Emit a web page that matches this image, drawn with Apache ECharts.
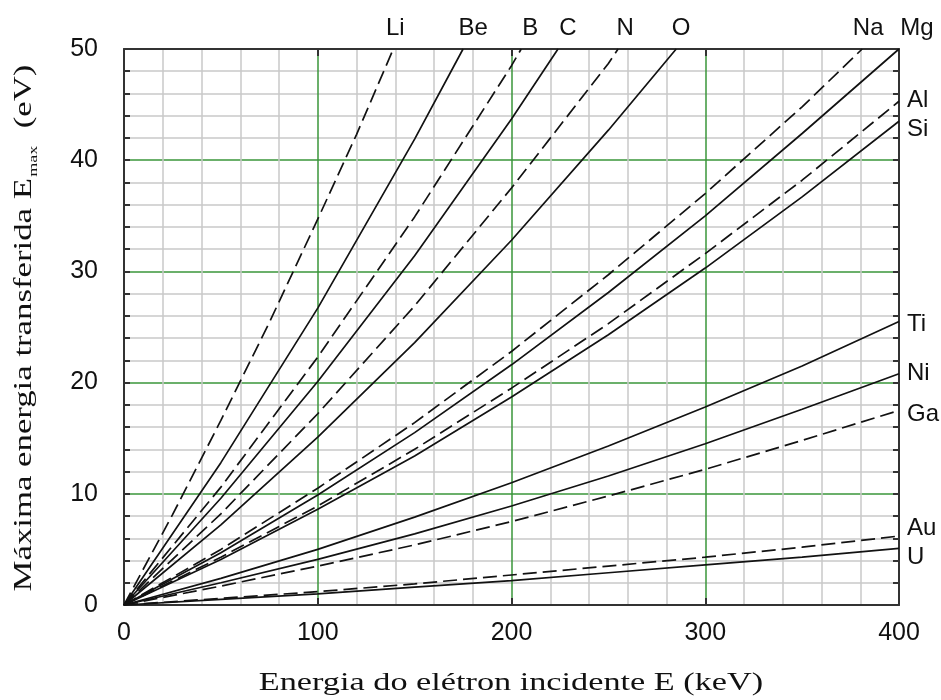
<!DOCTYPE html>
<html>
<head>
<meta charset="utf-8">
<title>Máxima energia transferida</title>
<script src="https://cdn.jsdelivr.net/npm/echarts@6/dist/echarts.min.js"></script>
<style>
  html, body { margin: 0; padding: 0; background: #ffffff; }
  #chart { width: 941px; height: 700px; }
</style>
</head>
<body>
<div id="chart"></div>
<script>
// Maximum energy transferred to a nucleus (eV) vs. incident electron energy (keV).
// Each element: list of [E (keV), Emax (eV)] points.
const li = [[0, 0], [25, 8.1], [50, 16.6], [75, 25.4], [100, 34.7], [120, 42.3], [139, 50]];
const be = [[0, 0], [50, 12.8], [100, 26.7], [150, 41.9], [175, 50]];
const b  = [[0, 0], [50, 10.6], [100, 22.3], [150, 34.9], [200, 48.5], [205, 50]];
const c  = [[0, 0], [50, 9.6], [100, 20.1], [150, 31.4], [200, 43.7], [224, 50]];
const n  = [[0, 0], [50, 8.2], [100, 17.2], [150, 26.9], [200, 37.5], [250, 48.7], [255, 50]];
const o  = [[0, 0], [50, 7.2], [100, 15.1], [150, 23.6], [200, 32.8], [250, 42.7], [285, 50]];
const na = [[0, 0], [50, 5.0], [100, 10.5], [150, 16.4], [200, 22.8], [250, 29.7], [300, 37.0], [350, 44.8], [381, 50]];
const mg = [[0, 0], [50, 4.7], [100, 9.9], [150, 15.5], [200, 21.6], [250, 28.1], [300, 35.0], [350, 42.4], [400, 50]];
const al = [[0, 0], [50, 4.3], [100, 8.9], [150, 14.0], [200, 19.5], [250, 25.3], [300, 31.6], [350, 38.2], [400, 45.3]];
const si = [[0, 0], [50, 4.1], [100, 8.6], [150, 13.4], [200, 18.7], [250, 24.3], [300, 30.3], [350, 36.7], [400, 43.5]];
const ti = [[0, 0], [50, 2.4], [100, 5.0], [150, 7.9], [200, 11.0], [250, 14.3], [300, 17.8], [350, 21.5], [400, 25.5]];
const ni = [[0, 0], [50, 2.0], [100, 4.1], [150, 6.4], [200, 8.9], [250, 11.6], [300, 14.5], [350, 17.6], [400, 20.8]];
const ga = [[0, 0], [50, 1.7], [100, 3.5], [150, 5.4], [200, 7.5], [250, 9.8], [300, 12.2], [350, 14.8], [400, 17.5]];
const au = [[0, 0], [50, 0.6], [100, 1.2], [150, 1.9], [200, 2.7], [250, 3.5], [300, 4.3], [350, 5.2], [400, 6.2]];
const u  = [[0, 0], [50, 0.5], [100, 1.0], [150, 1.6], [200, 2.2], [250, 2.9], [300, 3.6], [350, 4.3], [400, 5.1]];

const xTicks = [0, 100, 200, 300, 400];
const yTicks = [0, 10, 20, 30, 40, 50];

// name, points, dashed?, label side, label nudge
const curves = [
  ['Li', li, true,  'top',   [2, 0]],
  ['Be', be, false, 'top',   [10, 0]],
  ['B',  b,  true,  'top',   [9, 0]],
  ['C',  c,  false, 'top',   [10, 0]],
  ['N',  n,  true,  'top',   [7, 0]],
  ['O',  o,  false, 'top',   [5, 0]],
  ['Na', na, true,  'top',   [6, 0]],
  ['Mg', mg, false, 'top',   [18, 0]],
  ['Al', al, true,  'right', [0, -1]],
  ['Si', si, false, 'right', [0, 8]],
  ['Ti', ti, false, 'right', [0, 3]],
  ['Ni', ni, false, 'right', [0, 0]],
  ['Ga', ga, true,  'right', [0, 4]],
  ['Au', au, true,  'right', [0, -8]],
  ['U',  u,  false, 'right', [0, 9]]
];

const INK = '#111111';
const SANS = '"Liberation Sans", Arial, sans-serif';
const SERIF = '"Liberation Serif", "Times New Roman", serif';
const GREEN = '#3a963a';
const GRAY = '#c9c9c9';

const series = curves.map(([name, pts, dashed, side, nudge]) => {
  const last = pts[pts.length - 1];
  return {
    name: name,
    type: 'line',
    data: pts,
    showSymbol: false,
    smooth: false,
    clip: true,
    z: 3,
    lineStyle: { color: '#121212', width: 1.7, type: dashed ? [14, 6] : 'solid' },
    markPoint: {
      symbol: 'circle',
      symbolSize: 0,
      silent: true,
      data: [{ coord: last }],
      label: {
        show: true,
        formatter: name,
        position: side,
        distance: side === 'top' ? 9 : 8,
        offset: nudge,
        fontFamily: SANS,
        fontSize: 24,
        color: INK
      }
    }
  };
});

const boxLine = { show: true, onZero: false, lineStyle: { color: '#333', width: 2 } };

const option = {
  animation: false,
  backgroundColor: '#ffffff',
  grid: { left: 124, right: 42, top: 49, bottom: 95, containLabel: false },
  xAxis: [
    {
      type: 'value', position: 'bottom', min: xTicks[0], max: xTicks[xTicks.length - 1], interval: 100,
      axisLine: boxLine,
      axisTick: { show: true, inside: true, length: 7, lineStyle: { color: '#333', width: 2 } },
      axisLabel: { fontFamily: SANS, fontSize: 25, color: INK, margin: 16 },
      splitLine: { show: true, showMinLine: false, showMaxLine: false, lineStyle: { color: GREEN, width: 1.5 } },
      minorTick: { show: false, splitNumber: 5 },
      minorSplitLine: { show: true, lineStyle: { color: GRAY, width: 1.5 } }
    },
    {
      type: 'value', position: 'top', min: xTicks[0], max: xTicks[xTicks.length - 1], interval: 100,
      axisLine: boxLine,
      axisTick: { show: true, inside: true, length: 7, lineStyle: { color: '#333', width: 2 } },
      axisLabel: { show: false },
      splitLine: { show: false }
    }
  ],
  yAxis: [
    {
      type: 'value', position: 'left', min: yTicks[0], max: yTicks[yTicks.length - 1], interval: 10,
      axisLine: boxLine,
      axisTick: { show: true, inside: true, length: 6, lineStyle: { color: '#333', width: 2 } },
      minorTick: { show: true, splitNumber: 5, length: 6, lineStyle: { color: '#333', width: 2 } },
      axisLabel: { fontFamily: SANS, fontSize: 25, color: INK, margin: 26 },
      splitLine: { show: true, showMinLine: false, showMaxLine: false, lineStyle: { color: GREEN, width: 1.5 } },
      minorSplitLine: { show: true, lineStyle: { color: GRAY, width: 1.5 } }
    },
    {
      type: 'value', position: 'right', min: yTicks[0], max: yTicks[yTicks.length - 1], interval: 10,
      axisLine: boxLine,
      axisTick: { show: true, inside: true, length: 6, lineStyle: { color: '#333', width: 2 } },
      minorTick: { show: true, splitNumber: 5, length: 6, lineStyle: { color: '#333', width: 2 } },
      axisLabel: { show: false },
      splitLine: { show: false }
    }
  ],
  graphic: [
    {
      type: 'text',
      x: 511, y: 683,
      scaleX: 1.37,
      style: {
        text: 'Energia do elétron incidente E (keV)',
        fontFamily: SERIF, fontSize: 25, fill: '#111',
        align: 'center', verticalAlign: 'middle'
      }
    },
    {
      type: 'text',
      x: 25, y: 328,
      rotation: Math.PI / 2,
      scaleX: 1.39,
      style: {
        text: '{a|Máxima energia transferida E}{s|max}{a|  (eV)}',
        align: 'center', verticalAlign: 'middle', fill: '#111',
        rich: {
          a: { fontFamily: SERIF, fontSize: 25, lineHeight: 27, verticalAlign: 'top', fill: '#111' },
          s: { fontFamily: SERIF, fontSize: 13, lineHeight: 13, padding: [16, 0, 0, 1], verticalAlign: 'top', fill: '#111' }
        }
      }
    }
  ],
  series: series
};

const chart = echarts.init(document.getElementById('chart'), null, { renderer: 'canvas' });
chart.setOption(option);
</script>
</body>
</html>
